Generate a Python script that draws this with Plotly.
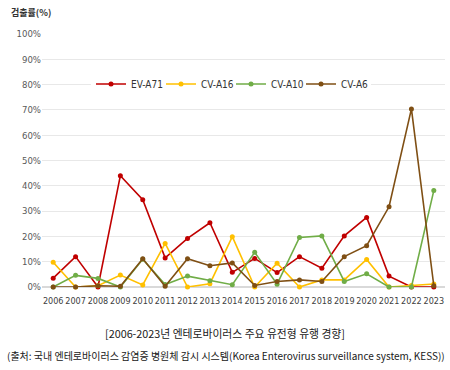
import plotly.graph_objects as go

years = [str(y) for y in range(2006, 2024)]
ev_a71 = [3.5, 12, 0, 44, 34.5, 11.5, 19.2, 25.4, 5.8, 11.3, 5.7, 12, 7.4, 20.2, 27.5, 4.3, 0, 0]
cv_a16 = [9.8, 0, 0.5, 4.7, 0.8, 17.2, 0, 1.3, 19.9, 0, 9.4, 0, 2.8, 2.8, 10.9, 0, 0.6, 1.2]
cv_a10 = [0, 4.6, 3.4, 0, 11, 1, 4.3, 2.5, 0.9, 13.7, 1.1, 19.6, 20.2, 2.2, 5.2, 0, 0, 38.1]
cv_a6 = [0, 0, 0.5, 0.3, 11.2, 0.3, 11.2, 8.4, 9.5, 0.6, 2.2, 2.8, 2.2, 12, 16.3, 31.7, 70.4, 0.5]

series = [
    ("EV-A71", ev_a71, "#C00000"),
    ("CV-A16", cv_a16, "#FFC000"),
    ("CV-A10", cv_a10, "#70AD47"),
    ("CV-A6", cv_a6, "#7F4F14"),
]
y_ticks = list(range(0, 101, 10))
y_tick_text = [f"{v}%" for v in y_ticks]

narrow = "Liberation Sans Narrow, DejaVu Sans Condensed, Roboto, sans-serif"
kr = "Noto Sans CJK KR"

fig = go.Figure()
for name, vals, color in series:
    fig.add_trace(go.Scatter(
        x=years, y=vals, name=name, mode="lines+markers",
        line=dict(color=color, width=1.6),
        marker=dict(color=color, size=5),
        cliponaxis=False,
    ))

fig.update_layout(
    width=450, height=370,
    margin=dict(l=42, r=5, t=34, b=83),
    plot_bgcolor="white", paper_bgcolor="white",
    font=dict(family=narrow, size=10, color="#404040"),
    showlegend=True,
    legend=dict(
        orientation="h", x=(91 - 42) / 403, y=(287 - 84) / 253, xanchor="left", yanchor="middle",
        bgcolor="white", font=dict(family=narrow, size=10, color="#333333"),
        entrywidth=25, entrywidthmode="pixels", itemwidth=30,
    ),
    xaxis=dict(
        type="category", range=[-0.5, 17.5], showgrid=False, showline=False,
        ticks="", tickangle=0, automargin=False, ticklabelstandoff=7,
        tickfont=dict(family=narrow, size=9, color="#404040"),
    ),
    yaxis=dict(
        range=[0, 100], tickvals=y_ticks, ticktext=y_tick_text,
        showgrid=True, gridcolor="#E8E8E8", gridwidth=1, zeroline=True,
        zerolinecolor="#D9D9D9", showline=False, ticks="", automargin=False,
        tickfont=dict(family=narrow, size=9.5, color="#595959"),
    ),
)
fig.add_annotation(text="<b>검출률(%)</b>", xref="paper", yref="paper",
                   x=-33 / 403, y=(287 - 12) / 253, xanchor="left", yanchor="middle",
                   showarrow=False, font=dict(family=kr, size=9, color="#333333"))
fig.add_annotation(text="[2006-2023년 엔테로바이러스 주요 유전형 유행 경향]", xref="paper", yref="paper",
                   x=(225 - 42) / 403, y=(287 - 333) / 253, xanchor="center", yanchor="middle",
                   showarrow=False, font=dict(family=kr, size=10.8, color="#202020"))
fig.add_annotation(text="(출처: 국내 엔테로바이러스 감염증 병원체 감시 시스템(Korea Enterovirus surveillance system, KESS))",
                   xref="paper", yref="paper",
                   x=(226 - 42) / 403, y=(287 - 355) / 253, xanchor="center", yanchor="middle",
                   showarrow=False, font=dict(family=kr, size=10, color="#202020"))

fig.write_html("out.html", config={"displayModeBar": False},
               post_script="document.body.style.margin='0';")
